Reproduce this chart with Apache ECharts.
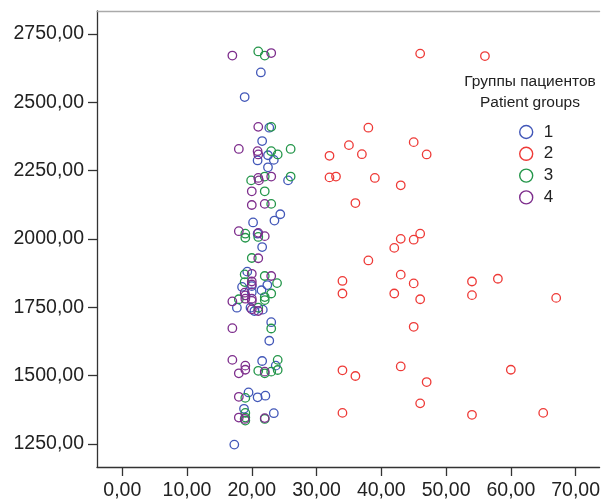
<!DOCTYPE html>
<html>
<head>
<meta charset="utf-8">
<script src="https://cdn.jsdelivr.net/npm/echarts@6/dist/echarts.min.js"></script>
<style>
html,body{margin:0;padding:0;background:#fff;}
#chart{width:603px;height:501px;}
</style>
</head>
<body>
<div id="chart"></div>
<script>
// Tick labels
const xTicks = [0, 10, 20, 30, 40, 50, 60, 70];
const yTicks = [1250, 1500, 1750, 2000, 2250, 2500, 2750];
const groupNames = ['1', '2', '3', '4'];
const legendTitle = ['Группы пациентов', 'Patient groups'];

// Group 1 (blue)
const group1 = [
  [21.4,2609],[18.9,2519],[22.7,2407],[21.6,2358],[22.5,2306],[23.4,2289],[20.9,2287],
  [22.5,2262],[25.6,2214],[24.4,2090],[23.5,2067],[20.2,2060],[20.9,2019],[21.6,1970],
  [19.3,1880],[20.0,1827],[18.5,1824],[22.4,1831],[21.5,1812],[20.0,1805],[17.7,1748],
  [19.8,1748],[21.7,1741],[20.4,1736],[23.0,1695],[22.7,1627],[21.6,1553],[23.7,1536],
  [19.5,1438],[20.9,1420],[22.1,1426],[18.8,1378],[23.4,1362],[17.3,1247]
];
// Group 2 (red)
const group2 = [
  [46,2678],[56,2669],[38,2407],[35,2343],[45,2354],[32,2304],[37,2310],[47,2309],
  [32,2225],[33,2228],[39,2223],[43,2196],[36,2131],[46,2019],[43,2000],[45,1997],
  [42,1967],[38,1921],[34,1846],[43,1869],[45,1837],[54,1844],[58,1854],[34,1800],
  [42,1800],[46,1779],[54,1794],[67,1784],[45,1678],[34,1519],[36,1498],[43,1533],
  [47,1476],[60,1521],[34,1363],[46,1398],[54,1356],[65,1363]
];
// Group 3 (green)
const group3 = [
  [21,2686],[22,2671],[23,2410],[26,2329],[23,2321],[24,2309],[19.9,2214],[22,2228],
  [26,2228],[22,2174],[23,2128],[19,2019],[19,2004],[21,2007],[20,1930],[18.9,1870],
  [22,1864],[18.9,1842],[23.9,1838],[23,1800],[22,1787],[22,1776],[18,1779],[21,1748],
  [23,1672],[24,1557],[21,1517],[22,1508],[23,1514],[24,1520],[19,1418],[19,1363],
  [19,1346],[19,1335],[22,1341]
];
// Group 4 (purple)
const group4 = [
  [17,2671],[23,2680],[21,2410],[18,2329],[20.9,2321],[21,2309],[21,2223],[21.1,2214],
  [23,2228],[20,2174],[20,2124],[22,2128],[18,2028],[21,2022],[22,2010],[21,1929],
  [20,1872],[23,1864],[20,1844],[20,1833],[18.9,1803],[19,1793],[19,1781],[20,1781],
  [17,1771],[20,1773],[20,1742],[21,1736],[17,1673],[17,1557],[19,1536],[19,1521],
  [18,1508],[22,1514],[18,1422],[18,1346],[18.9,1341],[22,1344]
];
const groupData = [group1, group2, group3, group4];
const groupColors = ['#4257b8', '#ee3a37', '#24964a', '#7d2d8c'];

const FONT = '"Liberation Sans", Arial, Helvetica, sans-serif';
const fmt = v => Number(v).toFixed(2).replace('.', ',');

const chart = echarts.init(document.getElementById('chart'), null, {renderer: 'canvas'});
const option = {
  animation: false,
  backgroundColor: '#fff',
  grid: {left: 97, top: 11, right: 0, bottom: 33, containLabel: false},
  xAxis: [{
    type: 'value', min: -3.9, max: 73.7,
    axisLine: {show: true, onZero: false, lineStyle: {color: '#333', width: 1.3}},
    axisTick: {show: true, length: 9, customValues: xTicks, lineStyle: {color: '#333', width: 1.3}},
    axisLabel: {customValues: xTicks, formatter: fmt, fontFamily: FONT, fontSize: 19.5, color: '#222', margin: 14},
    splitLine: {show: false}
  }, {
    type: 'value', position: 'top', min: -3.9, max: 73.7,
    axisLine: {show: true, onZero: false, lineStyle: {color: '#aaa', width: 1.3}},
    axisTick: {show: false}, axisLabel: {show: false}, splitLine: {show: false}
  }],
  yAxis: {
    type: 'value', min: 1165, max: 2834,
    axisLine: {show: true, onZero: false, lineStyle: {color: '#333', width: 1.3}},
    axisTick: {show: true, length: 9, customValues: yTicks, lineStyle: {color: '#333', width: 1.3}},
    axisLabel: {customValues: yTicks, formatter: fmt, fontFamily: FONT, fontSize: 19.5, color: '#222', margin: 13, padding: [6, 0, 0, 0]},
    splitLine: {show: false}
  },
  legend: {
    orient: 'vertical', left: 519, top: 123, padding: 0,
    itemWidth: 13, itemHeight: 13, itemGap: 3.8,
    data: groupNames,
    textStyle: {fontFamily: FONT, fontSize: 17, color: '#222', lineHeight: 18, padding: [0, 0, 0, 6]},
    itemStyle: {color: 'rgba(0,0,0,0)', borderWidth: 1.4}
  },
  graphic: [
    {type: 'text', x: 530, y: 82, style: {text: legendTitle[0], fill: '#222', font: '15.5px ' + FONT, textAlign: 'center', textVerticalAlign: 'middle'}},
    {type: 'text', x: 530, y: 103, style: {text: legendTitle[1], fill: '#222', font: '15.5px ' + FONT, textAlign: 'center', textVerticalAlign: 'middle'}}
  ],
  series: groupNames.map((name, i) => ({
    name: name,
    type: 'scatter',
    xAxisIndex: 0,
    symbol: 'circle',
    symbolSize: 8.5,
    data: groupData[i],
    itemStyle: {color: 'rgba(0,0,0,0)', borderColor: groupColors[i], borderWidth: 1.3, opacity: 1},
    emphasis: {disabled: true}
  }))
};
chart.setOption(option);
</script>
</body>
</html>
